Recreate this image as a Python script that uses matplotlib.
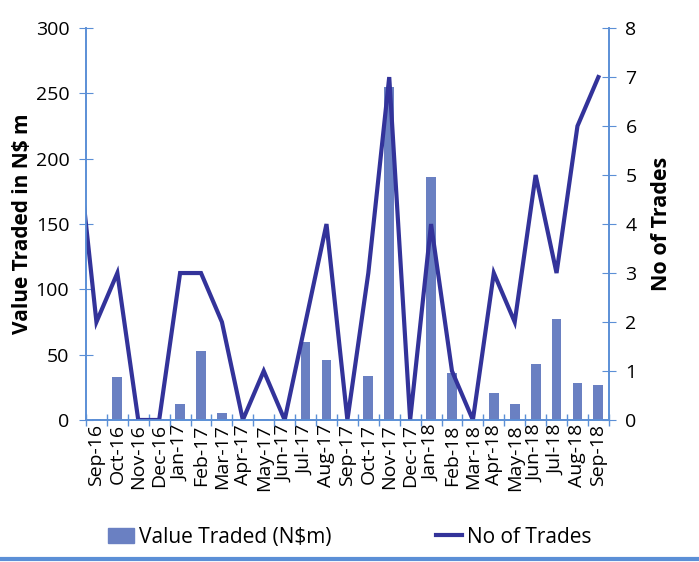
import numpy as np
import matplotlib
matplotlib.use("Agg")
import matplotlib.pyplot as plt
from matplotlib.lines import Line2D

plt.rcParams['font.family'] = ['Open Sans', 'DejaVu Sans']

# Данные
months = ["Sep-16", "Oct-16", "Nov-16", "Dec-16", "Jan-17", "Feb-17", "Mar-17",
          "Apr-17", "May-17", "Jun-17", "Jul-17", "Aug-17", "Sep-17", "Oct-17",
          "Nov-17", "Dec-17", "Jan-18", "Feb-18", "Mar-18", "Apr-18", "May-18",
          "Jun-18", "Jul-18", "Aug-18", "Sep-18"]
value_traded = [1, 33, 1, 1, 12, 53, 5, 0, 0.5, 0, 60, 46, 0, 34,
                255, 0, 186, 36, 0, 21, 12, 43, 77, 28, 27]
# предыдущий месяц (Aug-16) виден только как обрезанный отрезок у левой оси
trades_prev = 6
no_of_trades = [2, 3, 0, 0, 3, 3, 2, 0, 1, 0, 2, 4, 0, 3,
                7, 0, 4, 1, 0, 3, 2, 5, 3, 6, 7]

bar_color = "#6A80C2"
line_color = "#33339A"
axis_color = "#5B8FD6"

x = np.arange(len(months))

fig = plt.figure(figsize=(6.99, 5.62), dpi=100)
ax = fig.add_axes([0.123, 0.2527, 0.748, 0.6973])
ax2 = ax.twinx()

ax.bar(x, value_traded, width=0.47, color=bar_color, label="Value Traded (N$m)")
ax2.plot(np.arange(-1, len(months)), [trades_prev] + no_of_trades,
         color=line_color, lw=3, solid_joinstyle="miter", label="No of Trades")

ax.set_xlim(-0.5, len(months) - 0.5)
ax.set_ylim(0, 300)
ax2.set_ylim(0, 8)
ax.set_yticks(range(0, 301, 50))
ax2.set_yticks(range(0, 9))

ax.set_xticks(x)
ax.set_xticklabels(months, rotation=90, fontsize=14)
ax.set_xticks(np.arange(-0.5, len(months)), minor=True)
ax.tick_params(axis="x", which="major", length=0, pad=3)
ax.tick_params(axis="x", which="minor", direction="inout", length=8,
               color=axis_color, width=1)
ax.tick_params(axis="y", direction="inout", length=10, color=axis_color,
               labelsize=14, pad=7)
ax2.tick_params(axis="y", direction="inout", length=10, color=axis_color,
                labelsize=14, pad=7)

for a in (ax, ax2):
    a.spines["top"].set_visible(False)
    for s in ("left", "right", "bottom"):
        a.spines[s].set_color(axis_color)
        a.spines[s].set_linewidth(1.2)

ax.set_ylabel("Value Traded in N$ m", fontsize=15, fontweight="bold", labelpad=2)
ax2.set_ylabel("No of Trades", fontsize=15.5, fontweight="bold", labelpad=10)

handles = [plt.Rectangle((0, 0), 1, 1, color=bar_color),
           Line2D([0], [0], color=line_color, lw=3)]
fig.legend(handles, ["Value Traded (N$m)", "No of Trades"], loc="center",
           bbox_to_anchor=(0.5, 0.044), ncol=2, frameon=False, fontsize=15,
           handlelength=1.25, handletextpad=0.25, columnspacing=5.0)

# синяя линия внизу рисунка
fig.add_artist(Line2D([0, 1], [0.006, 0.006], color=axis_color, lw=3,
                      transform=fig.transFigure))

fig.savefig("out.png", dpi=100)
